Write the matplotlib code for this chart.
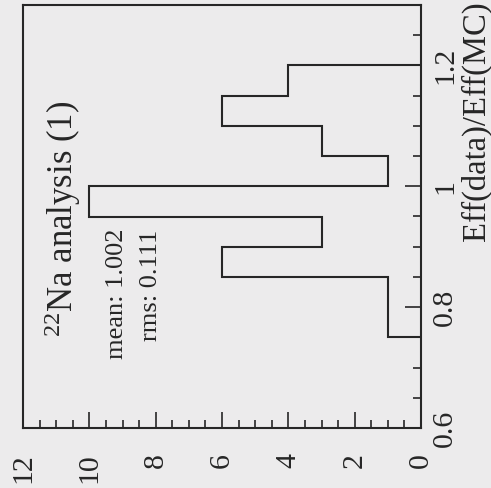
import matplotlib
matplotlib.use("Agg")
import matplotlib.pyplot as plt
from matplotlib.ticker import MultipleLocator, FuncFormatter

# histogram data (bin edges in Eff(data)/Eff(MC), entries per bin)
edges = [0.75, 0.80, 0.85, 0.90, 0.95, 1.00, 1.05, 1.10, 1.15, 1.20]
counts = [1, 1, 6, 3, 10, 1, 3, 6, 4]
title = r"$^{22}$Na analysis (1)"
stats = ["mean: 1.002", "rms: 0.111"]
xlabel = "Eff(data)/Eff(MC)"

plt.rcParams["font.family"] = ["Liberation Serif", "DejaVu Serif"]
plt.rcParams["mathtext.fontset"] = "custom"
plt.rcParams["mathtext.rm"] = "Liberation Serif"
plt.rcParams["mathtext.it"] = "Liberation Serif:italic"

bg = "#ecebec"
ink = "#262626"
W, H = 491, 488

fig = plt.figure(figsize=(W / 100, H / 100), dpi=100, facecolor=bg)
# frame in pixels: left 23, right 421, top 5, bottom 428
ax = fig.add_axes([23 / W, 1 - 428 / H, (421 - 23) / W, (428 - 5) / H])
ax.set_facecolor(bg)

# plot is drawn rotated by 90 degrees: counts run right-to-left, ratio runs upward
ax.stairs(counts, edges, orientation="horizontal", baseline=0,
          color=ink, linewidth=1.5)
ax.set_xlim(12, 0)
ax.set_ylim(0.6, 1.3)

for s in ax.spines.values():
    s.set_color(ink)
    s.set_linewidth(1.5)

fmt = FuncFormatter(lambda v, p: "%g" % round(v, 3))

ax.xaxis.set_major_locator(MultipleLocator(2))
ax.xaxis.set_minor_locator(MultipleLocator(0.5))
ax.xaxis.set_major_formatter(fmt)
ax.tick_params(axis="x", which="both", direction="in", bottom=True, top=False,
               color=ink, width=1.2, labelsize=21.5, labelcolor=ink,
               labelrotation=90, pad=18)
ax.tick_params(axis="x", which="major", length=11.5)
ax.tick_params(axis="x", which="minor", length=5.8)

ax.yaxis.tick_right()
ax.yaxis.set_major_locator(MultipleLocator(0.2))
ax.yaxis.set_minor_locator(MultipleLocator(0.05))
ax.yaxis.set_major_formatter(fmt)
ax.tick_params(axis="y", which="both", direction="in", right=True, left=False,
               color=ink, width=1.2, labelsize=21.5, labelcolor=ink, pad=8)
ax.tick_params(axis="y", which="major", length=11.5)
ax.tick_params(axis="y", which="minor", length=5.8)
for lab in ax.get_yticklabels():
    lab.set_rotation(90)
    lab.set_va("center")
    lab.set_ha("left")

# texts placed in pixel positions (baseline x, start/end y)
def px(x, y):
    return x / W, 1 - y / H

fig.text(*px(73, 337), title, rotation=90, rotation_mode="anchor",
         ha="left", va="baseline", fontsize=25, color=ink)
fig.text(*px(123, 229), stats[0], rotation=90, rotation_mode="anchor",
         ha="right", va="baseline", fontsize=19, color=ink)
fig.text(*px(157, 230), stats[1], rotation=90, rotation_mode="anchor",
         ha="right", va="baseline", fontsize=19, color=ink)
fig.text(*px(485, 1), xlabel, rotation=90, rotation_mode="anchor",
         ha="right", va="baseline", fontsize=23.5, color=ink)

fig.savefig("out.png", dpi=100, facecolor=bg)
